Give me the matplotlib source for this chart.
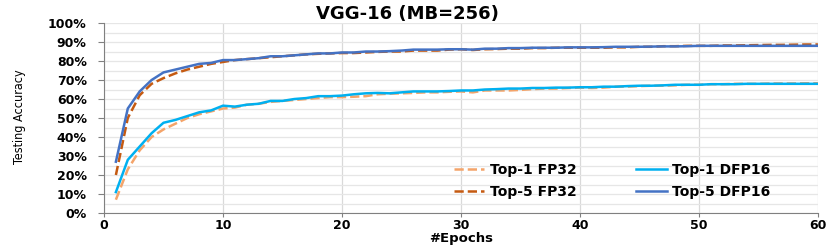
import matplotlib
matplotlib.use('Agg')
import matplotlib.pyplot as plt
from matplotlib.ticker import MultipleLocator, PercentFormatter

# accuracy (%) per epoch
epochs = list(range(1, 61))
top1_fp32 = [7, 23, 33, 40, 44, 47, 50, 52, 53.5, 55,
             55.5, 57, 57.5, 58.5, 59, 59.5, 60, 60.5, 61, 61,
             61.2, 61.5, 62.5, 62.8, 63, 63.2, 63.5, 63.5, 63.8, 64,
             63.5, 64.5, 64.5, 64.5, 64.8, 65.2, 65.5, 65.5, 65.8, 66,
             65.8, 66, 66.5, 66.5, 66.8, 67, 67, 67.2, 67.5, 67.5,
             67.8, 67.8, 68, 68, 68, 68.2, 68.2, 68.2, 68.3, 68.3]
top1_dfp16 = [11, 28, 35, 42, 47.5, 49, 51, 53, 54, 56.5,
              56, 57, 57.5, 59, 59, 60, 60.5, 61.5, 61.5, 61.8,
              62.5, 63, 63.2, 63, 63.5, 64, 64, 64, 64.2, 64.5,
              64.5, 65, 65.2, 65.5, 65.5, 65.8, 65.8, 66, 66, 66.2,
              66.2, 66.5, 66.5, 66.8, 67, 67, 67.2, 67.5, 67.5, 67.5,
              67.8, 67.8, 67.8, 68, 68, 68, 68, 68, 68, 68]
top5_fp32 = [20, 50, 62, 68, 71, 73.5, 75.5, 77, 78.5, 79.5,
             80.5, 81, 81.5, 82, 82.5, 83, 83.5, 83.8, 84, 84.2,
             84.2, 84.5, 84.8, 85, 85, 85.5, 85.5, 85.5, 86, 86.2,
             85.8, 86.2, 86.3, 86.5, 86.5, 86.8, 86.8, 87, 87, 87,
             87, 87, 87.2, 87.2, 87.5, 87.5, 87.8, 87.8, 88, 88,
             88, 88.2, 88.2, 88.3, 88.4, 88.5, 88.5, 88.6, 88.7, 88.7]
top5_dfp16 = [27, 55, 64, 70, 74, 75.5, 77, 78.5, 79, 80.5,
              80.5, 81, 81.5, 82.5, 82.5, 83, 83.5, 84, 84, 84.5,
              84.5, 85, 85, 85.2, 85.5, 86, 86, 86, 86.2, 86.2,
              86, 86.5, 86.5, 86.8, 86.8, 87, 87, 87, 87.2, 87.2,
              87.2, 87.3, 87.5, 87.5, 87.5, 87.6, 87.7, 87.7, 87.8, 88,
              88, 88, 88, 88, 88, 88, 88, 88, 88, 88]

fig = plt.figure(figsize=(8.3, 2.45), dpi=100)
ax = fig.add_axes([0.1253, 0.1306, 0.8602, 0.7754])

l1, = ax.plot(epochs, top1_fp32, color='#F4A46A', ls='--', lw=1.8, label='Top-1 FP32', zorder=3)
l2, = ax.plot(epochs, top1_dfp16, color='#00B0F0', lw=1.8, label='Top-1 DFP16', zorder=3)
l3, = ax.plot(epochs, top5_fp32, color='#C55A11', ls='--', lw=1.8, label='Top-5 FP32', zorder=3)
l4, = ax.plot(epochs, top5_dfp16, color='#4472C4', lw=1.8, label='Top-5 DFP16', zorder=3)

ax.set_xlim(0, 60)
ax.set_ylim(0, 100)
ax.xaxis.set_major_locator(MultipleLocator(10))
ax.yaxis.set_major_locator(MultipleLocator(10))
ax.yaxis.set_minor_locator(MultipleLocator(5))
ax.yaxis.set_major_formatter(PercentFormatter(decimals=0))
ax.grid(True, which='both', axis='y', color='#E6E6E6', lw=0.9, zorder=0)
ax.grid(True, which='major', axis='x', color='#D9D9D9', lw=0.9, zorder=0)
ax.tick_params(which='minor', length=0)
ax.tick_params(which='major', color='#808080')
ax.tick_params(axis='y', length=4.5, pad=8)
ax.tick_params(axis='x', length=3, pad=1.5)

for s in ['top', 'right']:
    ax.spines[s].set_visible(False)
for s in ['left', 'bottom']:
    ax.spines[s].set_color('#808080')

for lab in ax.get_xticklabels() + ax.get_yticklabels():
    lab.set_fontweight('bold')
    lab.set_fontsize(9)

ax.set_title('VGG-16 (MB=256)', fontsize=13, fontweight='bold', pad=1, x=0.425)
ax.set_xlabel('#Epochs', fontsize=9.5, fontweight='bold', va='baseline')
ax.xaxis.set_label_coords(0.5, -0.155)
ax.set_ylabel('Testing Accuracy', fontsize=9, fontstretch='condensed')
ax.yaxis.set_label_coords(-0.109, 0.505)

ax.legend([l1, l3, l2, l4], ['Top-1 FP32', 'Top-5 FP32', 'Top-1 DFP16', 'Top-5 DFP16'],
          ncol=2, loc='center left', bbox_to_anchor=(0.48, 0.168), frameon=False,
          prop={'weight': 'bold', 'size': 10}, handlelength=2.2, borderpad=0,
          columnspacing=4.3, labelspacing=0.55, handletextpad=0.4)

fig.savefig('out.png', dpi=100)
